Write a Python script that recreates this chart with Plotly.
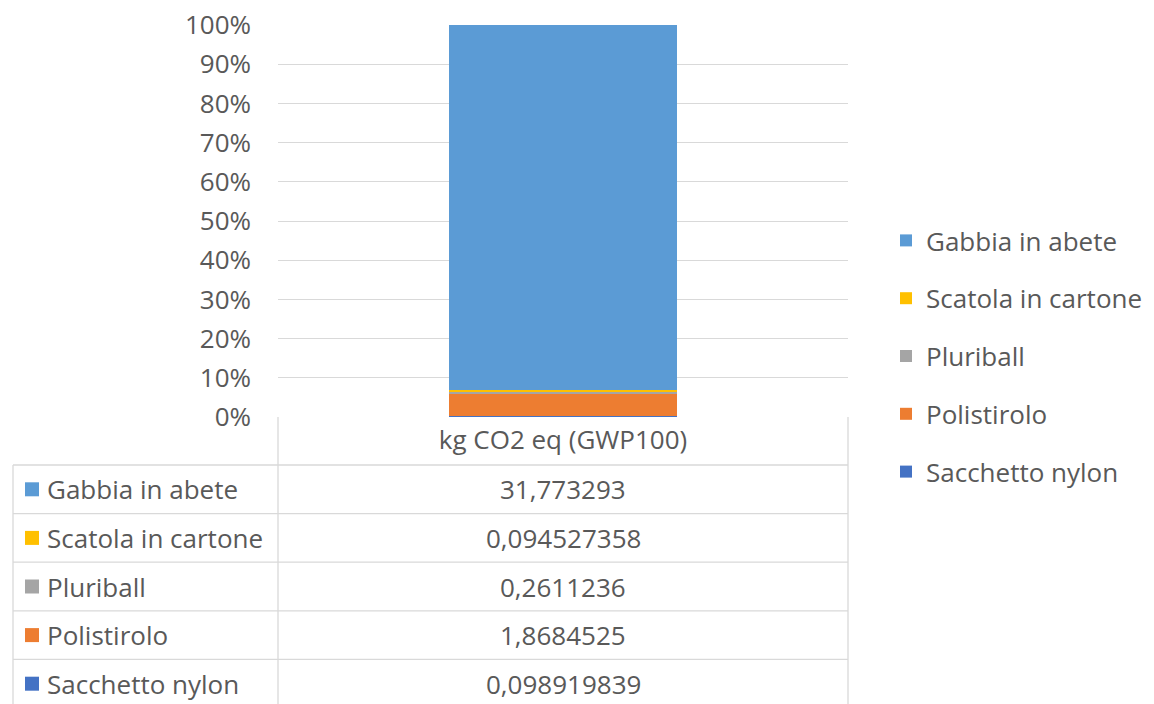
import plotly.graph_objects as go

# Data: packaging components and their GWP100 contribution
category = ["kg CO2 eq (GWP100)"]
materials = ["Sacchetto nylon", "Polistirolo", "Pluriball", "Scatola in cartone", "Gabbia in abete"]
values = [0.098919839, 1.8684525, 0.2611236, 0.094527358, 31.773293]
value_labels = ["0,098919839", "1,8684525", "0,2611236", "0,094527358", "31,773293"]
colors = ["#4472C4", "#ED7D31", "#A5A5A5", "#FFC000", "#5B9BD5"]
tick_vals = [0, 10, 20, 30, 40, 50, 60, 70, 80, 90, 100]
tick_text = [f"{v}%" for v in tick_vals]

W, H = 1154, 704
L, R, T, B = 278, 306, 25, 287
PW, PH = W - L - R, H - T - B

FONT = "Open Sans"
TXT = "#595959"
LINE = "#D9D9D9"
FS = 26


def px_x(x):
    return (x - L) / PW


def px_y(y):
    return (H - B - y) / PH


fig = go.Figure()
n = len(materials)
for i, (name, val, col) in enumerate(zip(materials, values, colors)):
    fig.add_trace(go.Bar(
        x=category, y=[val], name=name, marker=dict(color=col, line=dict(width=0)),
        legendgroup=name, legendrank=n - i,
    ))

shapes = []
annotations = []

# Data table under the plot
row_h = 48.6
header_top = 417
first_row = 465
left_edge, col_edge, right_edge = 13, 278, 848
bottom = first_row + n * row_h

for i in range(n + 1):
    y = first_row + i * row_h
    shapes.append(dict(type="line", xref="paper", yref="paper",
                       x0=px_x(left_edge), x1=px_x(right_edge), y0=px_y(y), y1=px_y(y),
                       line=dict(color=LINE, width=1.3)))
for x, y0 in [(left_edge, first_row), (col_edge, header_top), (right_edge, header_top)]:
    shapes.append(dict(type="line", xref="paper", yref="paper",
                       x0=px_x(x), x1=px_x(x), y0=px_y(y0), y1=px_y(bottom),
                       line=dict(color=LINE, width=1.3)))

# Rows listed from top component of the stack down
for i, idx in enumerate(reversed(range(n))):
    yc = first_row + (i + 0.5) * row_h
    shapes.append(dict(type="rect", xref="paper", yref="paper",
                       x0=px_x(25), x1=px_x(39), y0=px_y(yc - 7), y1=px_y(yc + 7),
                       fillcolor=colors[idx], line=dict(width=0)))
    annotations.append(dict(xref="paper", yref="paper", x=px_x(45), y=px_y(yc),
                            xanchor="left", yanchor="middle", showarrow=False,
                            text=materials[idx], font=dict(family=FONT, size=FS, color=TXT)))
    annotations.append(dict(xref="paper", yref="paper", x=px_x((col_edge + right_edge) / 2), y=px_y(yc),
                            xanchor="center", yanchor="middle", showarrow=False,
                            text=value_labels[idx], font=dict(family=FONT, size=FS, color=TXT)))

fig.update_layout(
    width=W, height=H,
    margin=dict(l=L, r=R, t=T, b=B, pad=0, autoexpand=False),
    paper_bgcolor="white", plot_bgcolor="white",
    barmode="stack", barnorm="percent", bargap=0.6,
    font=dict(family=FONT, size=FS, color=TXT),
    showlegend=True,
    legend=dict(
        x=px_x(886), y=px_y(356), xanchor="left", yanchor="middle",
        traceorder="grouped", tracegroupgap=21,
        font=dict(family=FONT, size=FS, color=TXT),
        itemwidth=30, bgcolor="rgba(0,0,0,0)",
    ),
    xaxis=dict(
        showgrid=False, showline=False, zeroline=False, ticks="",
        ticklabelstandoff=5, tickfont=dict(family=FONT, size=FS, color=TXT),
        fixedrange=True, automargin=False,
    ),
    yaxis=dict(
        range=[0, 100], tickvals=tick_vals, ticktext=tick_text,
        showgrid=True, gridcolor=LINE, gridwidth=1.3, zeroline=False, showline=False,
        ticks="", ticklabelstandoff=26, automargin=False,
        tickfont=dict(family=FONT, size=FS, color=TXT), fixedrange=True,
    ),
    shapes=shapes,
    annotations=annotations,
)

fig.write_html("out.html")
